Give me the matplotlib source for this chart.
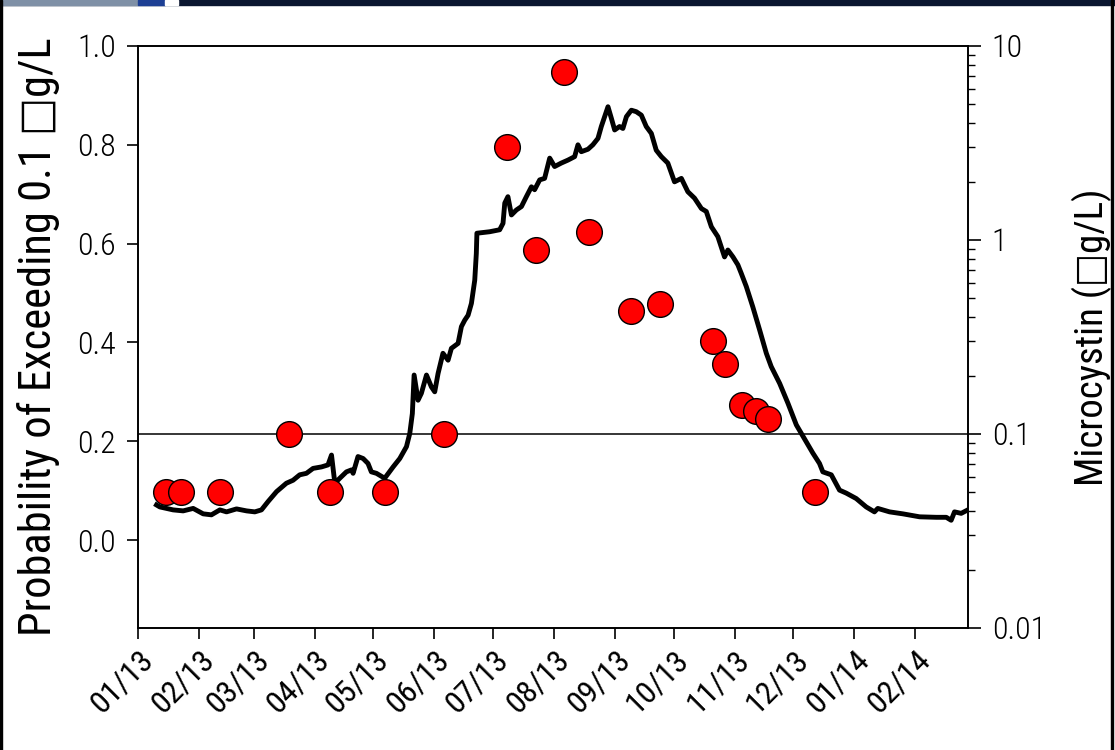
import datetime as dt
import matplotlib
matplotlib.use('Agg')
import matplotlib.pyplot as plt
import matplotlib.dates as mdates
from matplotlib import font_manager
from matplotlib.patches import Rectangle
from matplotlib.ticker import LogLocator, NullFormatter, FixedFormatter, FixedLocator

# ==========================================
# 데이터
# ==========================================
START = dt.date(2013, 1, 1)

# 초과 확률 곡선: 2013-01-01 기준 경과일, 확률
prob_days = [9.4, 11.1, 17.9, 23.0, 28.1, 33.2, 37.4, 41.7, 45.1, 50.2, 55.3, 59.5, 62.9,
             66.3, 70.6, 75.6, 79.0, 82.4, 85.8, 89.2, 93.5, 96.8, 98.6, 100.3, 102.8,
             106.2, 108.8, 109.6, 112.1, 114.7, 117.2, 118.9, 121.5, 125.7, 130.0, 133.4,
             136.8, 138.5, 139.8, 140.7, 142.7, 144.4, 147.0, 149.5, 151.2, 152.9, 155.4,
             158.0, 159.7, 163.1, 164.8, 166.5, 168.2, 169.9, 171.6, 172.4, 172.7, 179.2,
             184.3, 186.0, 186.9, 188.5, 190.3, 192.8, 195.4, 197.9, 200.5, 202.1, 204.7,
             207.2, 209.8, 212.3, 215.7, 219.1, 222.5, 224.2, 225.9, 229.3, 231.8, 234.4,
             236.1, 237.8, 239.5, 241.2, 242.9, 245.4, 247.1, 248.9, 251.4, 253.9, 256.5,
             259.0, 261.6, 264.1, 266.7, 270.0, 273.4, 276.9, 280.2, 283.6, 287.1, 289.6,
             292.2, 295.5, 298.9, 300.6, 303.2, 305.7, 307.4, 310.0, 313.3, 316.8, 320.2,
             322.7, 327.0, 331.2, 335.5, 338.0, 343.9, 347.3, 349.0, 353.3, 357.5, 360.9,
             366.0, 371.1, 375.3, 377.0, 383.0, 389.8, 398.3, 406.8, 411.9, 414.4, 416.1,
             419.5, 422.9]
prob_vals = [0.071, 0.067, 0.061, 0.059, 0.064, 0.053, 0.051, 0.061, 0.057, 0.063, 0.059,
             0.057, 0.061, 0.078, 0.098, 0.115, 0.121, 0.132, 0.135, 0.145, 0.148, 0.152,
             0.172, 0.115, 0.125, 0.138, 0.142, 0.135, 0.169, 0.165, 0.155, 0.138, 0.135,
             0.125, 0.148, 0.165, 0.189, 0.216, 0.256, 0.334, 0.283, 0.297, 0.334, 0.310,
             0.300, 0.337, 0.378, 0.364, 0.388, 0.398, 0.432, 0.445, 0.455, 0.479, 0.526,
             0.580, 0.621, 0.624, 0.628, 0.641, 0.682, 0.695, 0.658, 0.668, 0.675, 0.695,
             0.715, 0.709, 0.729, 0.732, 0.773, 0.756, 0.763, 0.769, 0.776, 0.800, 0.786,
             0.791, 0.800, 0.813, 0.837, 0.857, 0.877, 0.854, 0.830, 0.837, 0.833, 0.857,
             0.870, 0.867, 0.860, 0.837, 0.823, 0.789, 0.776, 0.763, 0.725, 0.732, 0.705,
             0.692, 0.671, 0.665, 0.634, 0.614, 0.573, 0.587, 0.573, 0.557, 0.540, 0.513,
             0.472, 0.425, 0.378, 0.351, 0.317, 0.277, 0.233, 0.216, 0.176, 0.155, 0.138,
             0.132, 0.101, 0.095, 0.084, 0.067, 0.057, 0.064, 0.057, 0.053, 0.047, 0.046,
             0.046, 0.040, 0.057, 0.054, 0.061]

# 마이크로시스틴 측정값 (µg/L)
obs_dates = ['2013-01-15', '2013-01-23', '2013-02-12', '2013-03-19', '2013-04-09',
             '2013-05-07', '2013-06-06', '2013-07-08', '2013-07-23', '2013-08-06',
             '2013-08-19', '2013-09-09', '2013-09-24', '2013-10-21', '2013-10-27',
             '2013-11-05', '2013-11-12', '2013-11-18', '2013-12-12']
obs_vals = [0.05, 0.05, 0.05, 0.10, 0.05, 0.05, 0.10, 3.0, 0.89, 7.35, 1.10, 0.43, 0.47,
            0.30, 0.23, 0.141, 0.131, 0.119, 0.05]

THRESHOLD = 0.1
month_ticks = [dt.date(2013 + (m // 12), m % 12 + 1, 1) for m in range(14)]

# ==========================================
# 글꼴: 좁은 글꼴이 있으면 사용
# ==========================================
installed = {f.name for f in font_manager.fontManager.ttflist}
narrow = next((n for n in ['Liberation Sans Narrow', 'Roboto Condensed',
                           'Open Sans Condensed', 'DejaVu Sans'] if n in installed),
              'DejaVu Sans')
plt.rcParams['font.family'] = [narrow, 'DejaVu Sans']
plt.rcParams['font.stretch'] = 'condensed'

# ==========================================
# 그리기
# ==========================================
fig = plt.figure(figsize=(11.15, 7.5), dpi=100)
ax = fig.add_axes([0.1238, 0.1627, 0.7444, 0.776])

t0 = mdates.date2num(START)
x_line = [t0 + d for d in prob_days]
ax.plot(x_line, prob_vals, color='black', lw=3.5, zorder=3)
ax.set_ylim(-0.178, 1.0)
ax.set_yticks([0.0, 0.2, 0.4, 0.6, 0.8, 1.0])
ax.set_yticklabels(['0.0', '0.2', '0.4', '0.6', '0.8', '1.0'])
ax.set_xlim(t0, t0 + 423)
ax.set_xticks([mdates.date2num(d) for d in month_ticks])
ax.xaxis.set_major_formatter(mdates.DateFormatter('%m/%y'))
ax.tick_params(axis='x', labelsize=23, length=8, width=1.2, direction='out', pad=4)
ax.tick_params(axis='y', labelsize=23, length=8, width=1.2, direction='out', pad=8)
for lab in ax.get_xticklabels():
    lab.set_rotation(45)
    lab.set_ha('right')
    lab.set_rotation_mode('anchor')
for lab in ax.get_yticklabels():
    lab.set_fontweight('light')
ax.set_ylabel('Probability of Exceeding 0.1 \u25a1g/L', fontsize=32)
ax.yaxis.set_label_coords(-0.094, 0.50)

ax2 = ax.twinx()
ax2.set_yscale('log')
ax2.set_ylim(0.01, 10)
ax2.axhline(THRESHOLD, color='black', lw=1.1, zorder=1)
x_obs = [mdates.datestr2num(d) for d in obs_dates]
ax2.plot(x_obs, obs_vals, 'o', ms=18.5, mfc='#ff0000', mec='black', mew=1.0, zorder=4)
ax2.yaxis.set_major_locator(FixedLocator([0.01, 0.1, 1, 10]))
ax2.yaxis.set_major_formatter(FixedFormatter(['0.01', '0.1', '1', '10']))
ax2.yaxis.set_minor_locator(LogLocator(base=10, subs=range(2, 10)))
ax2.yaxis.set_minor_formatter(NullFormatter())
ax2.tick_params(axis='y', which='major', labelsize=23, length=9, width=1.2, pad=8)
ax2.tick_params(axis='y', which='minor', length=5, width=1.0)
for lab in ax2.get_yticklabels():
    lab.set_fontweight('light')
ax2.set_ylabel('Microcystin (\u25a1g/L)', fontsize=28)
ax2.yaxis.set_label_coords(1.125, 0.50)

for a in (ax, ax2):
    for s in a.spines.values():
        s.set_linewidth(1.2)

# 스크린샷 테두리
W, H = 1115, 750
def px_rect(x, y, w, h, c):
    fig.patches.append(Rectangle((x / W, 1 - (y + h) / H), w / W, h / H,
                                 transform=fig.transFigure, color=c, zorder=10))
px_rect(0, 0, W, 5, '#0a1630')
px_rect(0, 0, 138, 5, '#7f90a6')
px_rect(138, 0, 27, 5, '#1d3f94')
px_rect(165, 0, 13, 5, 'white')
px_rect(0, 0, 2, H, 'black')
px_rect(1111, 0, 2, H, 'black')

fig.savefig('out.png', dpi=100)
